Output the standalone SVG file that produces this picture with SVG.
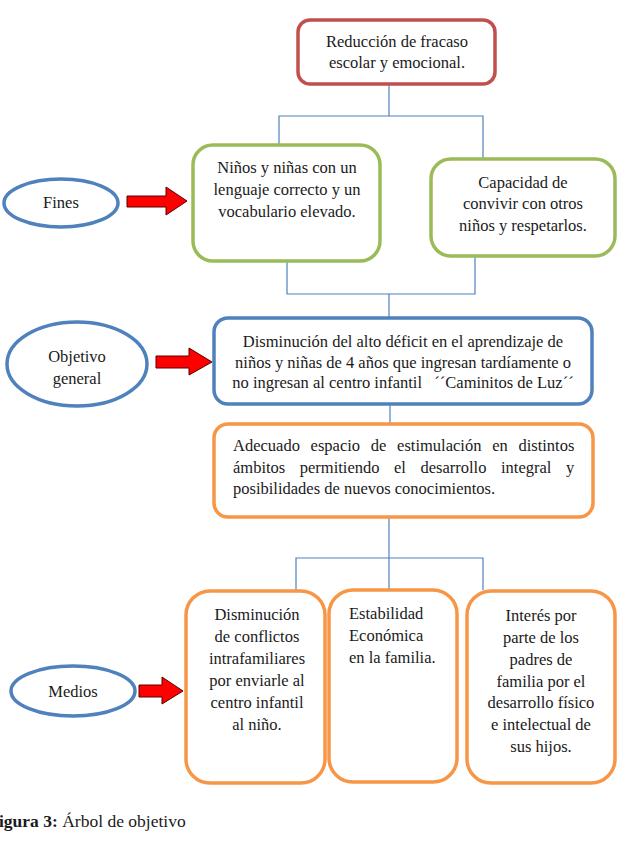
<svg xmlns="http://www.w3.org/2000/svg" width="620" height="854" viewBox="0 0 620 854">
<style>
text{font-family:"Liberation Serif","Times New Roman",serif;font-size:16.5px;fill:#1a1a1a;}
.c{text-anchor:middle;}
.box{fill:#fff;stroke-width:3.5;}
.red{stroke:#C0504D;}
.green{stroke:#9BBB59;}
.blue{stroke:#4F81BD;}
.orange{stroke:#F79646;}
.ell{fill:#fff;stroke:#4F81BD;stroke-width:3.5;}
.arrow{fill:#FF0000;stroke:#5a0000;stroke-width:1;}
.conn{fill:none;stroke:#4F81BD;stroke-width:1.2;}
</style>
<rect width="620" height="854" fill="#fff"/>
<g id="connectors">
<polyline class="conn" points="389,84 389,116"/>
<polyline class="conn" points="279,145 279,116 483,116 483,158"/>
<polyline class="conn" points="287,262 287,294 475,294 475,256"/>
<polyline class="conn" points="389,294 389,318"/>
<polyline class="conn" points="390,404 390,424"/>
<polyline class="conn" points="389,517 389,590"/>
<polyline class="conn" points="296,590 296,558 483,558 483,590"/>
</g>
<g id="n_reduccion">
<rect class="box red" x="298" y="20" width="197" height="64" rx="12"/>
<text class="c" x="397" y="47">Reducción de fracaso</text>
<text class="c" x="397" y="68">escolar y emocional.</text>
</g>
<g id="n_ninos">
<rect class="box green" x="193" y="145" width="187" height="116" rx="20"/>
<text class="c" x="287" y="173">Niños y niñas con un</text>
<text class="c" x="287" y="195">lenguaje correcto y un</text>
<text class="c" x="287" y="217">vocabulario elevado.</text>
</g>
<g id="n_capacidad">
<rect class="box green" x="431" y="159" width="184" height="97" rx="20"/>
<text class="c" x="523" y="188">Capacidad de</text>
<text class="c" x="523" y="209">convivir con otros</text>
<text class="c" x="523" y="231">niños y respetarlos.</text>
</g>
<g id="n_fines">
<ellipse class="ell" cx="61" cy="203" rx="57" ry="24"/>
<text class="c" x="61" y="208">Fines</text>
<polygon class="arrow" points="127,196 166,196 166,187 187,201 166,215 166,207 127,207"/>
</g>
<g id="n_objetivo">
<ellipse class="ell" cx="77" cy="364" rx="70" ry="42"/>
<text class="c" x="77" y="362">Objetivo</text>
<text class="c" x="77" y="384">general</text>
<polygon class="arrow" points="156,356 189,356 189,348 212,362 189,375 189,368 156,368"/>
</g>
<g id="n_disminucion">
<rect class="box blue" x="214" y="318" width="378" height="86" rx="14"/>
<text class="c" x="403" y="347">Disminución del alto déficit en el aprendizaje de</text>
<text class="c" x="403" y="368">niños y niñas de 4 años que ingresan tardíamente o</text>
<text class="c" x="403" y="388" xml:space="preserve">no ingresan al centro infantil   ´´Caminitos de Luz´´</text>
</g>
<g id="n_adecuado">
<rect class="box orange" x="214" y="424" width="379" height="93" rx="14"/>
<text x="233" y="451" word-spacing="6.6">Adecuado espacio de estimulación en distintos</text>
<text x="233" y="473" word-spacing="10.4">ámbitos permitiendo el desarrollo integral y</text>
<text x="233" y="494">posibilidades de nuevos conocimientos.</text>
</g>
<g id="n_conflictos">
<rect class="box orange" x="186" y="591" width="139" height="192" rx="24"/>
<text class="c" x="257" y="620">Disminución</text>
<text class="c" x="257" y="642">de conflictos</text>
<text class="c" x="257" y="664">intrafamiliares</text>
<text class="c" x="257" y="686">por enviarle al</text>
<text class="c" x="257" y="708">centro infantil</text>
<text class="c" x="257" y="730">al niño.</text>
</g>
<g id="n_estabilidad">
<rect class="box orange" x="329" y="590" width="128" height="192" rx="24"/>
<text x="349" y="619">Estabilidad</text>
<text x="349" y="641">Económica</text>
<text x="349" y="663">en la familia.</text>
</g>
<g id="n_interes">
<rect class="box orange" x="467" y="591" width="148" height="192" rx="24"/>
<text class="c" x="541" y="621">Interés por</text>
<text class="c" x="541" y="643">parte de los</text>
<text class="c" x="541" y="665">padres de</text>
<text class="c" x="541" y="687">familia por el</text>
<text class="c" x="541" y="708">desarrollo físico</text>
<text class="c" x="541" y="730">e intelectual de</text>
<text class="c" x="541" y="752">sus hijos.</text>
</g>
<g id="n_medios">
<ellipse class="ell" cx="73" cy="691" rx="62" ry="25"/>
<text class="c" x="73" y="697">Medios</text>
<polygon class="arrow" points="139,685 162,685 162,677 183,691 162,704 162,697 139,697"/>
</g>
<g id="caption">
<text x="-1" y="827" style="font-size:17.5px"><tspan font-weight="bold">igura 3:</tspan> Árbol de objetivo</text>
</g>
</svg>
